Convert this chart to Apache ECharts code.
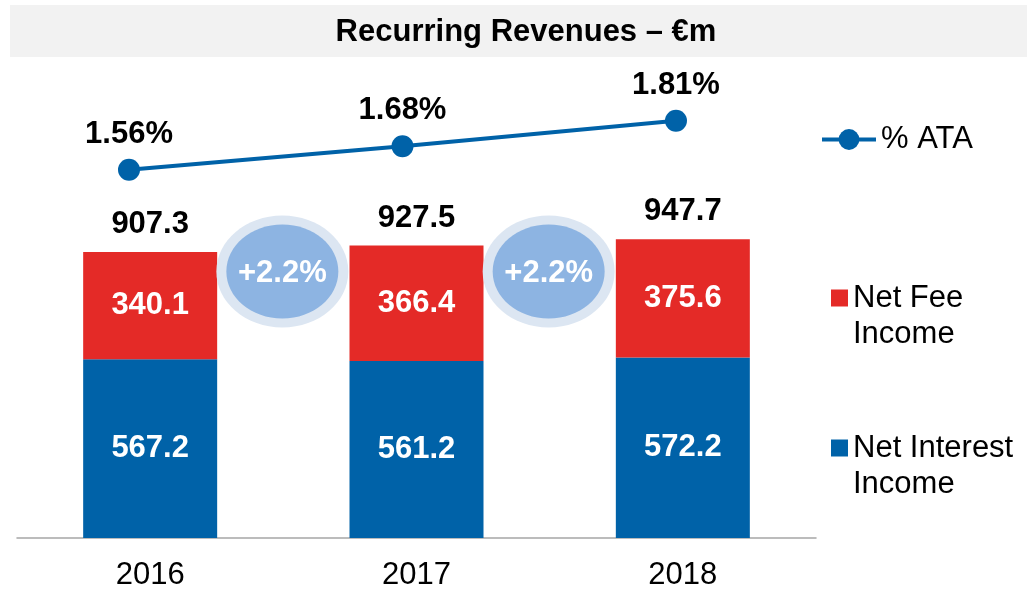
<!DOCTYPE html>
<html>
<head>
<meta charset="utf-8">
<script src="https://cdn.jsdelivr.net/npm/echarts@6/dist/echarts.min.js"></script>
<style>
  html, body { margin: 0; padding: 0; background: #fff; }
  #main { width: 1027px; height: 592px; }
</style>
</head>
<body>
<div id="main"></div>
<script>
const years = ['2016', '2017', '2018'];
const netInterest = [567.2, 561.2, 572.2];
const netFee = [340.1, 366.4, 375.6];
const totals = [907.3, 927.5, 947.7];
const ata = [1.56, 1.68, 1.81];
const growth = ['+2.2%', '+2.2%'];

const FONT = '"Liberation Sans", Arial, sans-serif';
const chart = echarts.init(document.getElementById('main'));

const boldLabel = { fontSize: 31, fontWeight: 'bold', fontFamily: FONT };
// square sitting on the first line of a two-line legend label
const topSquare = 'path://M0,0L0,0M17,72L17,72M0,9.5L17,9.5L17,26.5L0,26.5Z';

const option = {
  animation: false,
  backgroundColor: '#fff',
  textStyle: { fontFamily: FONT },
  grid: [
    { left: 17, right: 211, top: 60, bottom: 54 },
    { left: 0, right: 211, top: 60, bottom: 54 }
  ],
  xAxis: [
    {
      type: 'category', gridIndex: 0, data: years,
      axisTick: { show: false },
      axisLine: { lineStyle: { color: '#a6a6a6', width: 1.5 } },
      axisLabel: { color: '#000', fontSize: 31, margin: 22, fontFamily: FONT }
    },
    // the % ATA line sits a bit left of the bars in the original
    { type: 'value', gridIndex: 1, min: -0.4717, max: 2.512, show: false, splitLine: { show: false } }
  ],
  yAxis: [
    { type: 'value', gridIndex: 0, min: 0, max: 1516, show: false, splitLine: { show: false } },
    { type: 'value', gridIndex: 1, min: -0.32, max: 2.12, show: false, splitLine: { show: false } }
  ],
  legend: [
    {
      data: ['% ATA'], left: 820, top: 124, padding: 0, itemWidth: 54, itemHeight: 26, itemGap: 6,
      lineStyle: { width: 4 },
      textStyle: { fontSize: 31, color: '#000', fontFamily: FONT }
    },
    {
      data: [{ name: 'Net Fee\nIncome', icon: topSquare }], left: 831, top: 280, padding: 0,
      itemWidth: 17, itemHeight: 72, itemGap: 9,
      textStyle: { fontSize: 31, color: '#000', lineHeight: 36, fontFamily: FONT }
    },
    {
      data: [{ name: 'Net Interest\nIncome', icon: topSquare }], left: 831, top: 430, padding: 0,
      itemWidth: 17, itemHeight: 72, itemGap: 9,
      textStyle: { fontSize: 31, color: '#000', lineHeight: 36, fontFamily: FONT }
    }
  ],
  graphic: [
    { type: 'rect', shape: { x: 10, y: 5, width: 1017, height: 52 }, style: { fill: '#f2f2f2' }, z: -1 },
    {
      type: 'text', x: 526, y: 32,
      style: { text: 'Recurring Revenues – €m', font: 'bold 31px ' + FONT, fill: '#000', align: 'center', verticalAlign: 'middle' }
    }
  ],
  series: [
    {
      name: 'Net Interest\nIncome', type: 'bar', stack: 'rev', data: netInterest, barWidth: 134,
      itemStyle: { color: '#0062a8' },
      label: Object.assign({ show: true, position: 'inside', color: '#fff', formatter: p => p.value.toFixed(1) }, boldLabel)
    },
    {
      name: 'Net Fee\nIncome', type: 'bar', stack: 'rev', data: netFee, barWidth: 134,
      itemStyle: { color: '#e42a27' },
      label: Object.assign({ show: true, position: 'inside', color: '#fff', formatter: p => p.value.toFixed(1) }, boldLabel)
    },
    {
      // zero-height cap that carries the total label
      name: 'total', type: 'bar', stack: 'rev', data: totals.map(() => 0), barWidth: 134, silent: true,
      itemStyle: { color: 'transparent' },
      label: Object.assign({ show: true, position: 'top', distance: 12, color: '#000',
        formatter: p => totals[p.dataIndex].toFixed(1) }, boldLabel)
    },
    {
      name: '% ATA', type: 'line', xAxisIndex: 1, yAxisIndex: 1,
      data: ata.map((v, i) => [i, v]),
      lineStyle: { color: '#0062a8', width: 4 },
      itemStyle: { color: '#0062a8' },
      symbol: 'circle', symbolSize: 22,
      label: Object.assign({ show: true, position: 'top', distance: 9, color: '#000',
        formatter: p => p.value[1].toFixed(2) + '%' }, boldLabel)
    }
  ]
};
chart.setOption(option);

// growth bubbles between categories
const bubbles = [];
growth.forEach((g, i) => {
  const a = chart.convertToPixel({ xAxisIndex: 0, yAxisIndex: 0 }, [i, 845]);
  const b = chart.convertToPixel({ xAxisIndex: 0, yAxisIndex: 0 }, [i + 1, 845]);
  const cx = (a[0] + b[0]) / 2 - 1, cy = a[1];
  bubbles.push(
    { type: 'ellipse', shape: { cx: cx, cy: cy, rx: 66, ry: 56 }, style: { fill: '#dce6f2' }, z: 10 },
    { type: 'ellipse', shape: { cx: cx, cy: cy, rx: 56, ry: 47 }, style: { fill: '#8db4e2' }, z: 11 },
    { type: 'text', x: cx, y: cy + 2, z: 12,
      style: { text: g, font: 'bold 31px ' + FONT, fill: '#fff', align: 'center', verticalAlign: 'middle' } }
  );
});
chart.setOption({ graphic: option.graphic.concat(bubbles) });
</script>
</body>
</html>
